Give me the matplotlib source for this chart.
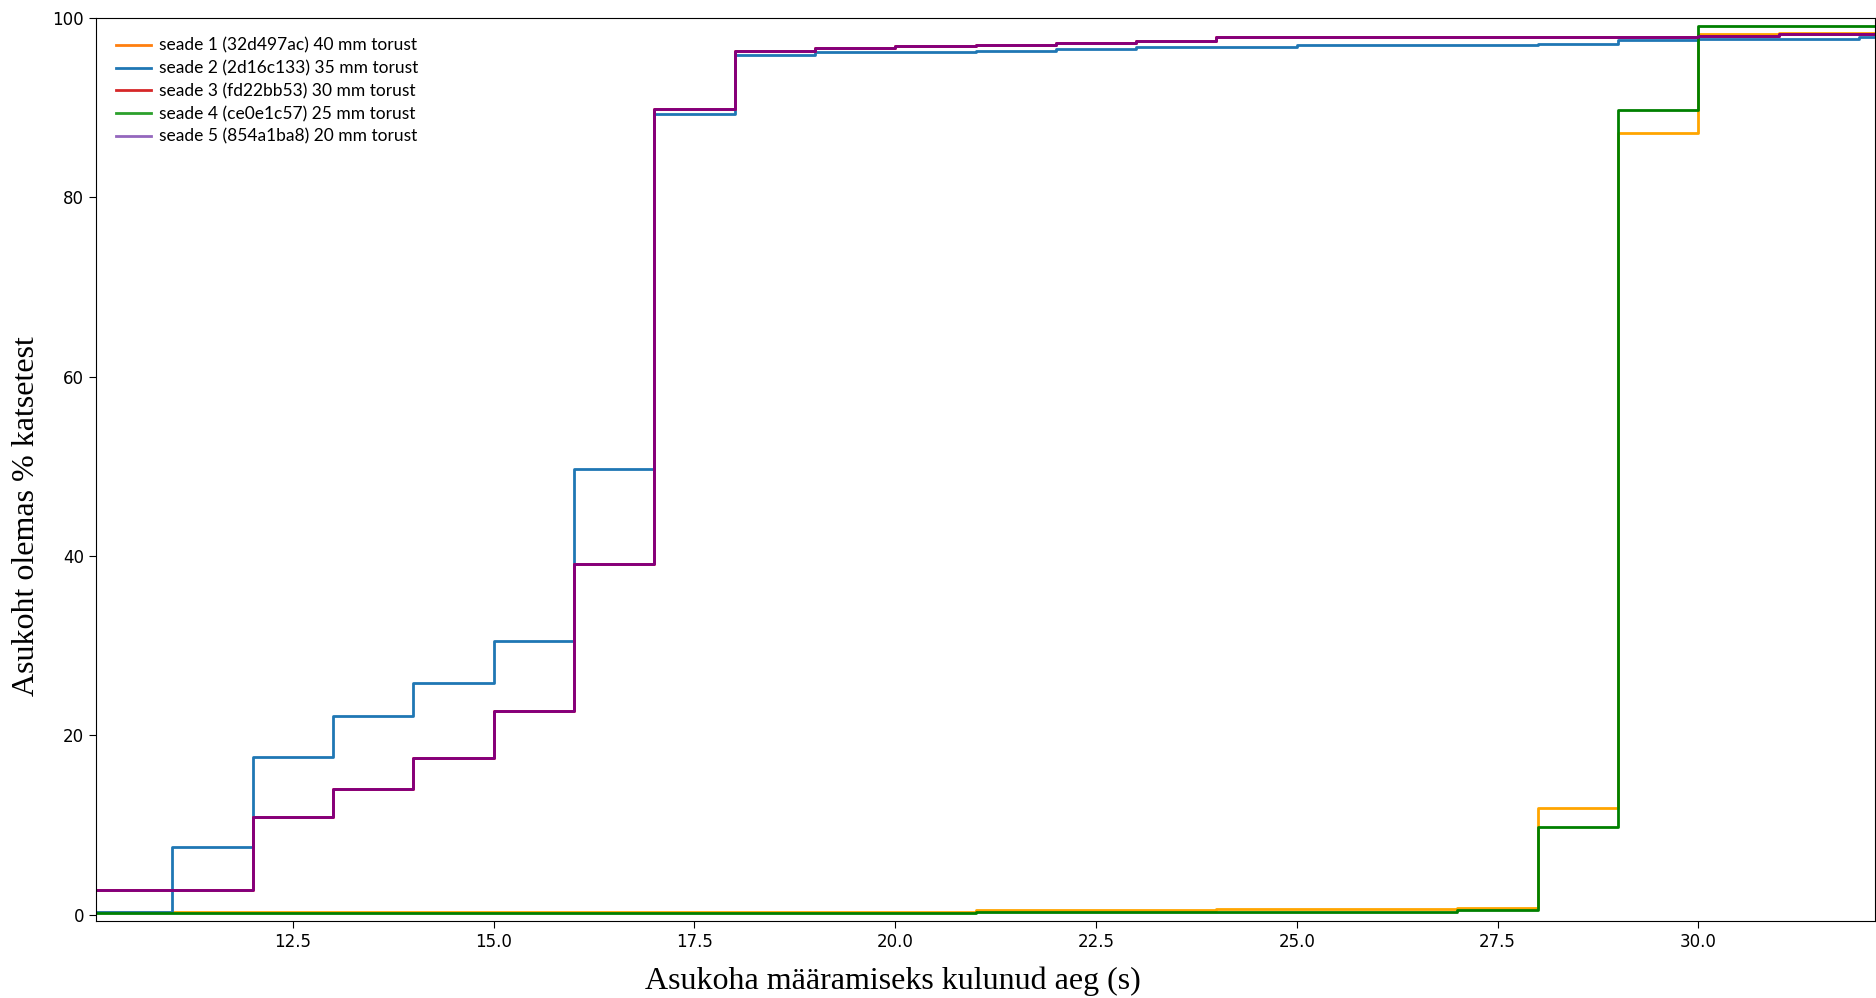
import matplotlib
matplotlib.use("Agg")
import matplotlib.pyplot as plt
from matplotlib.lines import Line2D

# time (s), step values apply from each time to the next
times = list(range(10, 34))

seade1 = [0.35] * 11 + [0.5] * 3 + [0.65] * 3 + [0.8, 11.9, 87.1, 98.2, 98.35, 98.35, 98.35]
seade2 = [0.35, 7.5, 17.6, 22.2, 25.8, 30.5, 49.7, 89.3, 95.8, 96.2, 96.2, 96.35,
          96.5, 96.7, 96.7, 96.95, 96.95, 96.95, 97.1, 97.5, 97.6, 97.6, 97.8, 97.8]
seade5 = [2.7, 2.7, 10.9, 14.0, 17.5, 22.7, 39.1, 89.8, 96.35, 96.6, 96.8, 97.0,
          97.2, 97.4, 97.8, 97.8, 97.8, 97.8, 97.8, 97.8, 98.0, 98.15, 98.15, 98.15]
seade3 = list(seade5)  # hidden under seade 5 in the picture
seade4 = [0.2] * 11 + [0.35] * 6 + [0.5, 9.8, 89.7, 99.1, 99.1, 99.1, 99.1]

labels = [
    "seade 1 (32d497ac) 40 mm torust",
    "seade 2 (2d16c133) 35 mm torust",
    "seade 3 (fd22bb53) 30 mm torust",
    "seade 4 (ce0e1c57) 25 mm torust",
    "seade 5 (854a1ba8) 20 mm torust",
]
line_colors = ["orange", "tab:blue", "red", "green", "purple"]
legend_colors = ["tab:orange", "tab:blue", "tab:red", "tab:green", "tab:purple"]


def main() -> None:
    fig = plt.figure(figsize=(18.76, 9.98), dpi=100)
    ax = fig.add_axes([0.0512, 0.0772, 0.9483, 0.905])

    series = [seade1, seade2, seade3, seade4, seade5]
    for vals, c in zip(series, line_colors):
        ax.step(times, vals, where="post", color=c, lw=2.0)

    ax.set_xlim(10.05, 32.2)
    ax.set_ylim(-0.7, 100)
    ax.set_xticks([12.5, 15.0, 17.5, 20.0, 22.5, 25.0, 27.5, 30.0])
    ax.set_yticks([0, 20, 40, 60, 80, 100])
    ax.tick_params(labelsize=12, length=5)

    ax.set_xlabel("Asukoha määramiseks kulunud aeg (s)", family="Liberation Serif",
                  fontsize=23)
    ax.set_ylabel("Asukoht olemas % katsetest", family="Liberation Serif",
                  fontsize=23)
    ax.xaxis.set_label_coords(0.448, -0.050)
    ax.yaxis.set_label_coords(-0.031, 0.448)

    handles = [Line2D([0], [0], color=c, lw=2) for c in legend_colors]
    ax.legend(handles, labels, loc="upper left", frameon=False,
              prop={"family": "Lato", "size": 12.5}, labelspacing=0.38,
              handlelength=2.0, handletextpad=0.45, borderaxespad=0.75)

    fig.savefig("out.png")
    plt.close(fig)


if __name__ == "__main__":
    main()
